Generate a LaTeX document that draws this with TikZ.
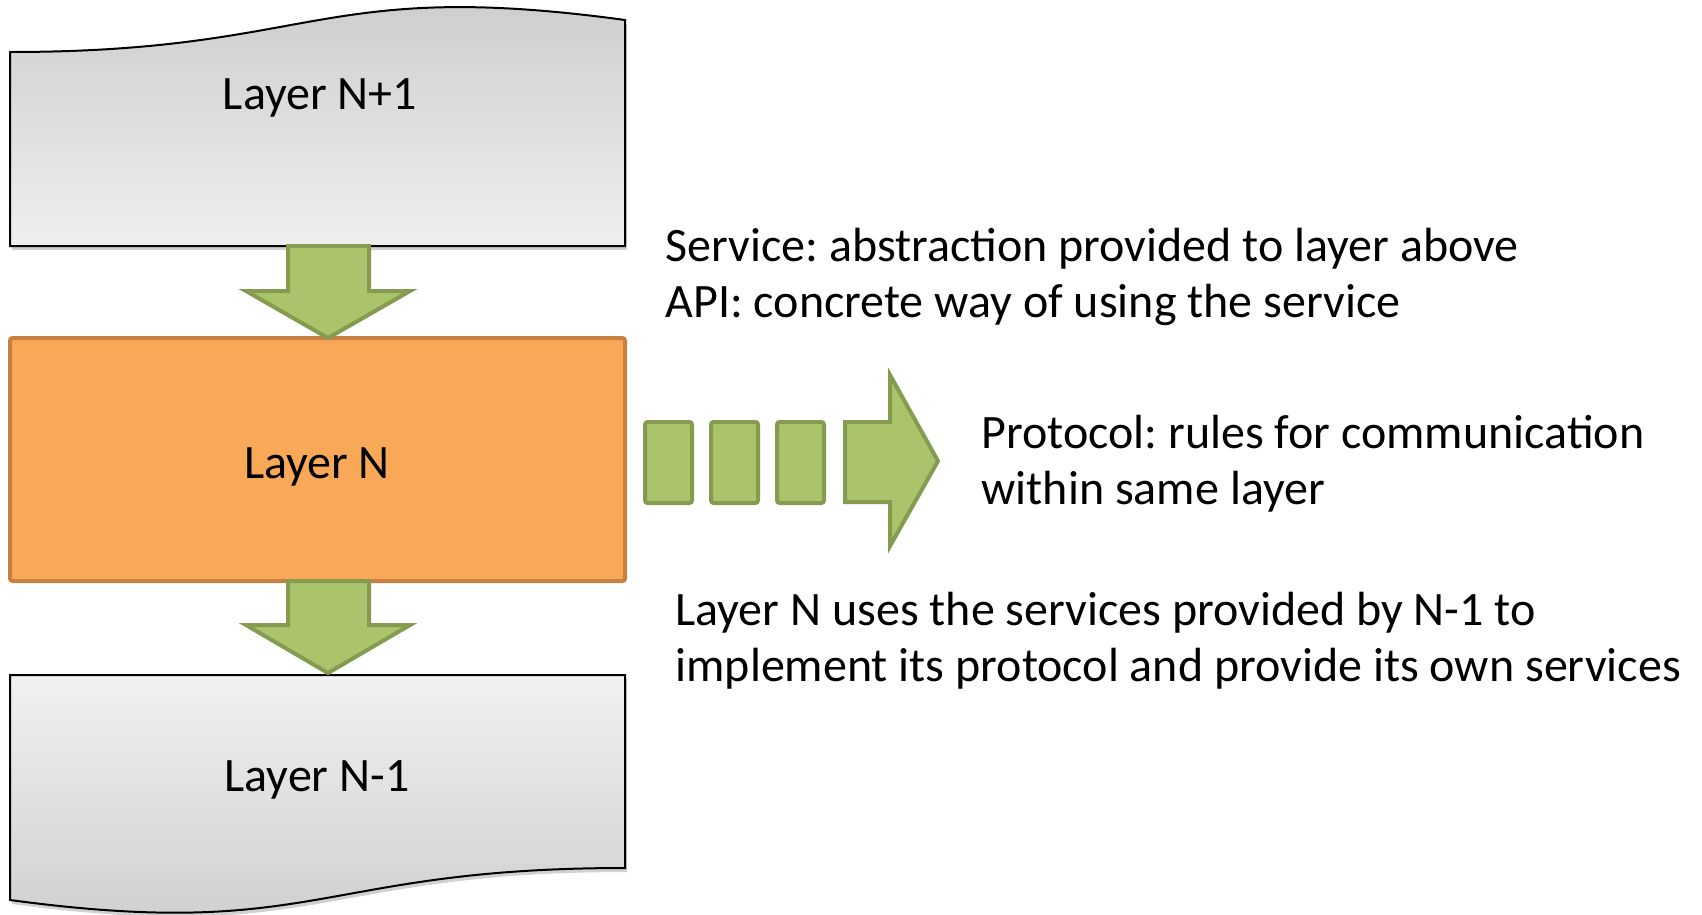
\documentclass[tikz,border=0pt]{standalone}
\usepackage{fontspec}
\setmainfont{Carlito}
\frenchspacing
\tikzset{every picture/.style={line width=0.75pt}}
\tikzset{
  greenshape/.style={draw={rgb, 255:red, 132; green, 155; blue, 80 }, fill={rgb, 255:red, 171; green, 196; blue, 108 }, line width=3pt, line join=miter},
  boxshadow/.style={fill=black, fill opacity=0.18, draw=none},
  lbl/.style={inner sep=0pt, font=\fontsize{36}{42}\selectfont},
  note/.style={lbl, anchor=west, align=left}
}

\begin{document}
\begin{tikzpicture}[x=0.75pt,y=0.75pt,yscale=-1,xscale=1]
	\path[use as bounding box] (0,0) rectangle (1702,914);

	%Shape: Document [id:top] 
	\path [boxshadow, shift={(2,4)}] (10,52) .. controls (317.5,52) and (317.5,-22) .. (625,20) -- (625,246) -- (10,246) -- cycle ;
	\shade [top color={rgb, 255:red, 203; green, 203; blue, 203 }, bottom color={rgb, 255:red, 239; green, 239; blue, 239 }] (10,52) .. controls (317.5,52) and (317.5,-22) .. (625,20) -- (625,246) -- (10,246) -- cycle ;
	\draw [line width=1.5pt] (10,52) .. controls (317.5,52) and (317.5,-22) .. (625,20) -- (625,246) -- (10,246) -- cycle ;
	%Shape: Rectangle [id:mid] 
	\draw [draw={rgb, 255:red, 200; green, 128; blue, 64 }, fill={rgb, 255:red, 249; green, 168; blue, 87 }, line width=3pt, rounded corners=2pt] (10,338) rectangle (625,581) ;
	%Shape: Document [id:bottom] 
	\path [boxshadow, shift={(2,4)}] (10,675) -- (625,675) -- (625,868) .. controls (317.5,868) and (317.5,941.5) .. (10,900) -- cycle ;
	\shade [top color={rgb, 255:red, 241; green, 241; blue, 241 }, bottom color={rgb, 255:red, 205; green, 205; blue, 205 }] (10,675) -- (625,675) -- (625,868) .. controls (317.5,868) and (317.5,941.5) .. (10,900) -- cycle ;
	\draw [line width=1.5pt] (10,675) -- (625,675) -- (625,868) .. controls (317.5,868) and (317.5,941.5) .. (10,900) -- cycle ;

	%Shape: Down Arrow [id:down1] 
	\draw [greenshape] (288,246) -- (369,246) -- (369,291) -- (410,291) -- (328,338) -- (246,291) -- (288,291) -- cycle ;
	%Shape: Down Arrow [id:down2] 
	\draw [greenshape] (288,581) -- (369,581) -- (369,625) -- (410,625) -- (328,673) -- (246,625) -- (288,625) -- cycle ;

	%Shape: Rectangle [id:dash1] 
	\draw [greenshape, rounded corners=2pt] (645,422) rectangle (692,503) ;
	%Shape: Rectangle [id:dash2] 
	\draw [greenshape, rounded corners=2pt] (711,422) rectangle (758,503) ;
	%Shape: Rectangle [id:dash3] 
	\draw [greenshape, rounded corners=2pt] (777,422) rectangle (824,503) ;
	%Shape: Right Arrow [id:right] 
	\draw [greenshape] (845,422) -- (890,422) -- (890,375) -- (938,461) -- (890,546) -- (890,502) -- (845,502) -- cycle ;

	% Text Node
	\node [lbl] (lnp1) at (320,98) {Layer N+1};
	% Text Node
	\node [lbl] (ln) at (317,467) {Layer N};
	% Text Node
	\node [lbl] (lnm1) at (317,780) {Layer N-1};
	% Text Node
	\node [note] (svc) at (665,277) {Service: abstraction provided to layer above\\API: concrete way of using the service};
	% Text Node
	\node [note] (proto) at (981,464) {Protocol: rules for communication\\within same layer};
	% Text Node
	\node [note] (uses) at (675,641) {Layer N uses the services provided by N-1 to\\implement its protocol and provide its own services};

\end{tikzpicture}
\end{document}
